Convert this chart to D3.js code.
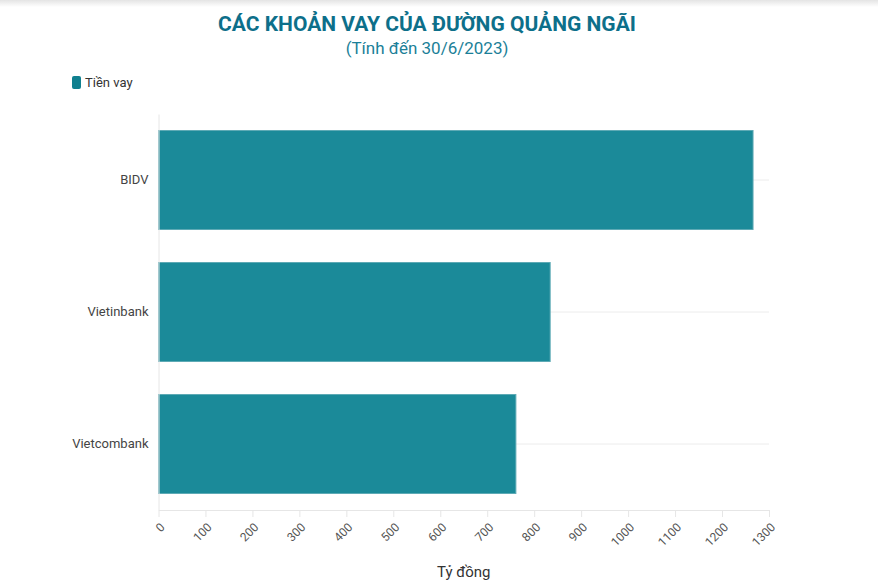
<!DOCTYPE html>
<html>
<head>
<meta charset="utf-8">
<script src="https://cdn.jsdelivr.net/npm/d3@7"></script>
<style>
  body { margin: 0; background: #fff; }
  svg { display: block; }
</style>
</head>
<body>
<script>
var banks = ["BIDV", "Vietinbank", "Vietcombank"];
var loans = [1266, 834, 761];
var xTicks = [0, 100, 200, 300, 400, 500, 600, 700, 800, 900, 1000, 1100, 1200, 1300];

var width = 878, height = 580;
var plotLeft = 158.5, plotRight = 769, plotTop = 114, plotBottom = 510;
var font = "'Liberation Sans Narrow', 'Roboto', sans-serif";

var svg = d3.select("body").append("svg")
    .attr("width", width)
    .attr("height", height);

// top shadow strip
var grad = svg.append("defs").append("linearGradient")
    .attr("id", "shade").attr("x1", 0).attr("x2", 0).attr("y1", 0).attr("y2", 1);
grad.append("stop").attr("offset", "0%").attr("stop-color", "#e4e4e4");
grad.append("stop").attr("offset", "100%").attr("stop-color", "#fff");
svg.append("rect").attr("width", width).attr("height", 7).attr("fill", "url(#shade)");

svg.append("text")
    .attr("x", 427).attr("y", 31)
    .attr("text-anchor", "middle")
    .attr("font-family", font)
    .attr("font-weight", "bold")
    .attr("font-size", "21px")
    .attr("fill", "#0d6f8a")
    .text("CÁC KHOẢN VAY CỦA ĐƯỜNG QUẢNG NGÃI");

svg.append("text")
    .attr("x", 427).attr("y", 54)
    .attr("text-anchor", "middle")
    .attr("font-family", font)
    .attr("font-size", "17px")
    .attr("fill", "#1b7f98")
    .text("(Tính đến 30/6/2023)");

// legend
svg.append("rect")
    .attr("x", 72).attr("y", 76).attr("width", 9).attr("height", 13)
    .attr("rx", 2).attr("fill", "#10808f");
svg.append("text")
    .attr("x", 85).attr("y", 87)
    .attr("font-family", font)
    .attr("font-size", "13px")
    .attr("fill", "#333")
    .text("Tiền vay");

var x = d3.scaleLinear().domain([0, 1300]).range([plotLeft, plotRight]);
var y = d3.scaleBand().domain(banks).range([plotTop, plotBottom])
    .paddingInner(0.25).paddingOuter(0.125);

// gridlines at band centres
svg.append("g").selectAll("line")
    .data(banks)
    .enter().append("line")
    .attr("x1", plotLeft).attr("x2", plotRight)
    .attr("y1", function(d) { return y(d) + y.bandwidth() / 2; })
    .attr("y2", function(d) { return y(d) + y.bandwidth() / 2; })
    .attr("stroke", "#ececec");

svg.append("g").selectAll("rect")
    .data(banks)
    .enter().append("rect")
    .attr("x", x(0))
    .attr("y", function(d) { return y(d); })
    .attr("width", function(d, i) { return x(loans[i]) - x(0); })
    .attr("height", y.bandwidth())
    .attr("fill", "#1b8a99")
    .attr("stroke", "#5eaab5")
    .attr("stroke-width", 1);

// y axis
var yAxis = svg.append("g")
    .attr("transform", "translate(" + plotLeft + ",0)")
    .call(d3.axisLeft(y).tickSize(0).tickPadding(10));
yAxis.select(".domain").attr("stroke", "#e6e6e6");
yAxis.selectAll("text")
    .attr("font-family", font)
    .attr("font-size", "13px")
    .attr("fill", "#444");

// x axis
var xAxis = svg.append("g")
    .attr("transform", "translate(0," + plotBottom + ")")
    .call(d3.axisBottom(x).tickValues(xTicks).tickFormat(d3.format("d"))
      .tickSize(7).tickSizeOuter(0));
xAxis.select(".domain").attr("stroke", "#e6e6e6");
xAxis.selectAll(".tick line").attr("stroke", "#e6e6e6");
xAxis.selectAll("text")
    .attr("font-family", font)
    .attr("font-size", "12px")
    .attr("fill", "#555")
    .attr("text-anchor", "end")
    .attr("x", 0).attr("y", 0)
    .attr("dx", 0).attr("dy", "0.35em")
    .attr("transform", "translate(3.5,15) rotate(-45)");

svg.append("text")
    .attr("x", x(650)).attr("y", 577)
    .attr("text-anchor", "middle")
    .attr("font-family", font)
    .attr("font-size", "15px")
    .attr("fill", "#333")
    .text("Tỷ đồng");
</script>
</body>
</html>
